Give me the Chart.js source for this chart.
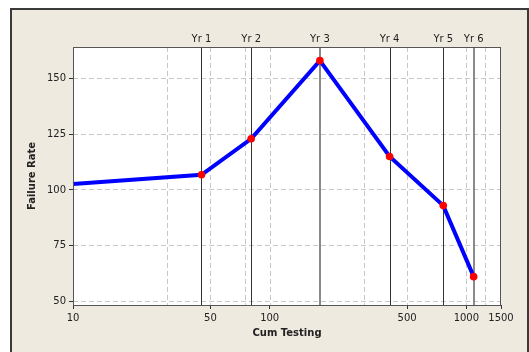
<!DOCTYPE html>
<html>
<head>
<meta charset="utf-8">
<script src="https://cdn.jsdelivr.net/npm/chart.js@4"></script>
<style>
  html, body { margin: 0; padding: 0; background: #ffffff; }
  #wrap { width: 529px; height: 352px; position: relative; }
</style>
</head>
<body>
<div id="wrap"><canvas id="chart" width="529" height="352"></canvas></div>
<script>
// Datos
const cumTesting = [10, 45, 80.5, 180, 407, 763, 1089];
const failureRate = [102.7, 106.8, 122.9, 157.9, 115.0, 93.0, 61.2];

// Líneas verticales de cada año
const yearLabels = ['Yr 1', 'Yr 2', 'Yr 3', 'Yr 4', 'Yr 5', 'Yr 6'];
const yearTesting = [45, 80.5, 180, 407, 763, 1089];

// Marcas de los ejes
const xTicks = [10, 50, 100, 500, 1000, 1500];
const xGridValues = [30, 50, 75, 100, 300, 500, 1000, 1250];
const yTicks = [50, 75, 100, 125, 150];

const FONT = 'DejaVu Sans';
const BEIGE = '#eeeae0';
const TEXT = '#222222';
// Yr 3 y Yr 6 se ven en gris
const grayYears = ['Yr 3', 'Yr 6'];

const framePlugin = {
  id: 'frame',
  beforeDraw(chart) {
    const ctx = chart.ctx;
    const a = chart.chartArea;
    ctx.save();
    ctx.fillStyle = '#ffffff';
    ctx.fillRect(0, 0, chart.width, chart.height);
    ctx.fillStyle = BEIGE;
    ctx.fillRect(11, 9, 517, chart.height - 9);
    ctx.strokeStyle = '#3a3a3a';
    ctx.lineWidth = 2;
    ctx.beginPath();
    ctx.moveTo(11, chart.height);
    ctx.lineTo(11, 9);
    ctx.lineTo(528, 9);
    ctx.lineTo(528, chart.height);
    ctx.stroke();
    ctx.fillStyle = '#ffffff';
    ctx.fillRect(a.left, a.top, a.right - a.left, a.bottom - a.top);

    // rejilla vertical discontinua
    const xs = chart.scales.x;
    ctx.strokeStyle = '#c8c8c8';
    ctx.lineWidth = 1;
    ctx.setLineDash([5, 3]);
    xGridValues.forEach(v => {
      const px = Math.round(xs.getPixelForValue(v)) + 0.5;
      ctx.beginPath();
      ctx.moveTo(px, a.top);
      ctx.lineTo(px, a.bottom);
      ctx.stroke();
    });
    ctx.restore();
  },
  beforeDatasetsDraw(chart) {
    const ctx = chart.ctx;
    const a = chart.chartArea;
    const xs = chart.scales.x;
    ctx.save();
    yearTesting.forEach((v, i) => {
      const gray = grayYears.includes(yearLabels[i]);
      const px = xs.getPixelForValue(v);
      ctx.strokeStyle = gray ? '#8a8a8a' : '#333333';
      ctx.lineWidth = gray ? 2 : 1;
      const x = gray ? Math.round(px) : Math.round(px) + 0.5;
      ctx.beginPath();
      ctx.moveTo(x, a.top);
      ctx.lineTo(x, a.bottom);
      ctx.stroke();
      ctx.fillStyle = TEXT;
      ctx.font = '10px "' + FONT + '"';
      ctx.textAlign = 'center';
      ctx.textBaseline = 'bottom';
      ctx.fillText(yearLabels[i], px, a.top - 3);
    });
    ctx.restore();
  },
  afterDraw(chart) {
    const ctx = chart.ctx;
    const a = chart.chartArea;
    ctx.save();
    ctx.strokeStyle = '#555555';
    ctx.lineWidth = 1;
    ctx.strokeRect(a.left + 0.5, a.top + 0.5, a.right - a.left - 1, a.bottom - a.top);
    ctx.restore();
  }
};

const ctx = document.getElementById('chart').getContext('2d');
new Chart(ctx, {
  type: 'line',
  data: {
    datasets: [{
      label: 'Failure Rate',
      data: cumTesting.map((x, i) => ({ x: x, y: failureRate[i] })),
      borderColor: '#0000ff',
      borderWidth: 4,
      tension: 0,
      pointRadius: cumTesting.map((x, i) => i === 0 ? 0 : 3.8),
      pointBackgroundColor: '#ff0000',
      pointBorderWidth: 0,
      pointHoverRadius: 4,
      clip: false
    }]
  },
  options: {
    responsive: false,
    animation: false,
    devicePixelRatio: 1,
    layout: { padding: { left: 22, top: 47, right: 28, bottom: 0 } },
    plugins: {
      legend: { display: false },
      tooltip: { enabled: false }
    },
    scales: {
      x: {
        type: 'logarithmic',
        min: 10,
        max: 1500,
        afterBuildTicks: s => { s.ticks = xTicks.map(v => ({ value: v })); },
        afterFit: s => { s.height = 47; },
        ticks: {
          color: TEXT,
          font: { family: FONT, size: 10 },
          padding: 3,
          maxRotation: 0,
          autoSkip: false,
          callback: v => String(v)
        },
        grid: {
          drawOnChartArea: false,
          tickLength: 4,
          tickColor: '#333333'
        },
        border: { display: false },
        title: {
          display: true,
          text: 'Cum Testing',
          color: TEXT,
          font: { family: FONT, size: 10, weight: 'bold' },
          padding: { top: 0, bottom: 13 }
        }
      },
      y: {
        min: 48.5,
        max: 164,
        afterBuildTicks: s => { s.ticks = yTicks.map(v => ({ value: v })); },
        afterFit: s => { s.width = 51; },
        ticks: {
          color: TEXT,
          font: { family: FONT, size: 10 },
          padding: 3
        },
        grid: {
          color: '#c8c8c8',
          borderDash: [5, 3],
          tickLength: 4,
          tickColor: '#333333',
          tickBorderDash: []
        },
        border: { display: false, dash: [5, 3] },
        title: {
          display: true,
          text: 'Failure Rate',
          color: TEXT,
          font: { family: FONT, size: 10, weight: 'bold' },
          padding: { top: 4, bottom: 4 }
        }
      }
    }
  },
  plugins: [framePlugin]
});
</script>
</body>
</html>
